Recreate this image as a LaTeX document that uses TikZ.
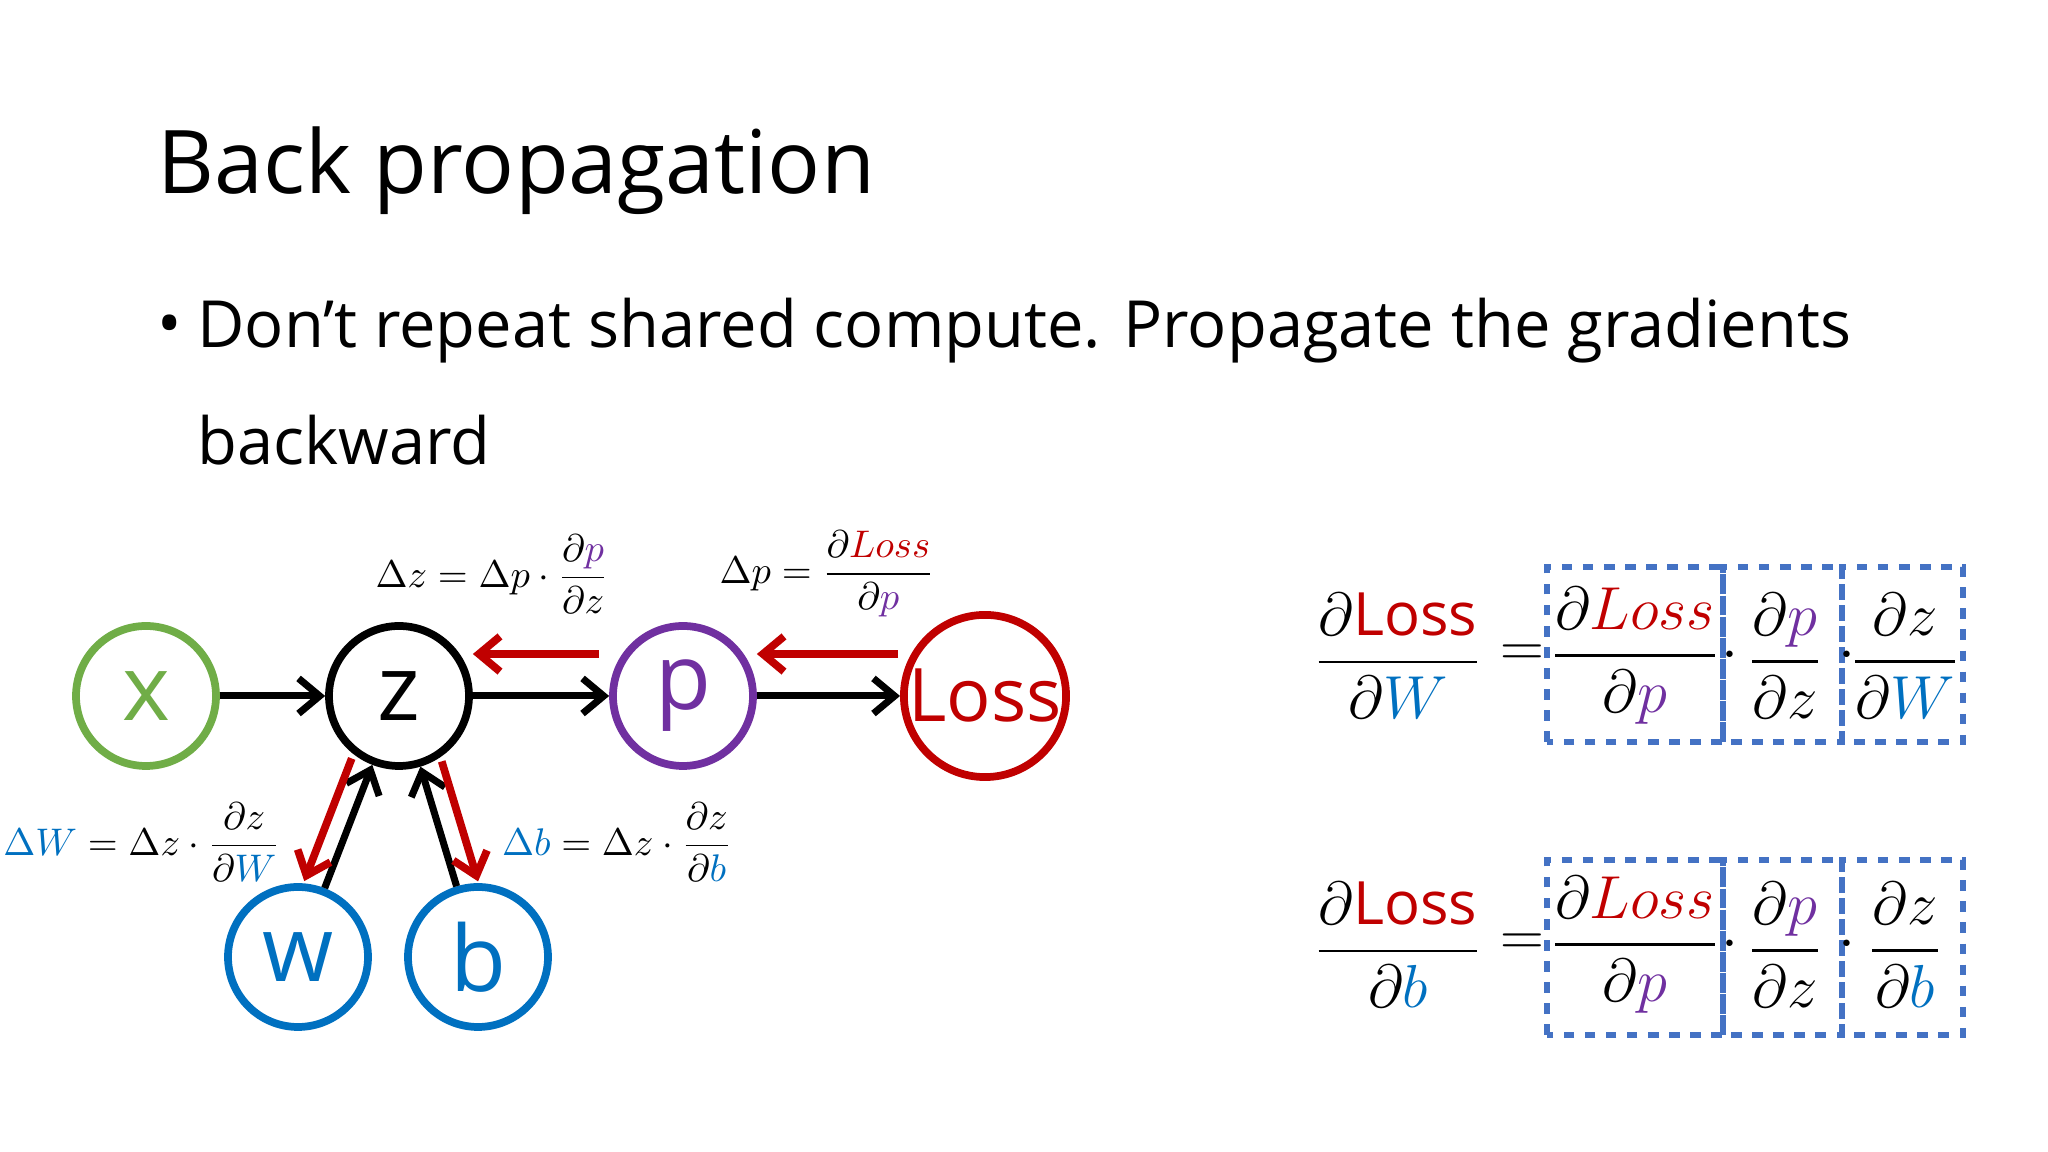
\documentclass[tikz,border=0pt]{standalone}
\usepackage{amsmath}
\usepackage{fontspec}
\setmainfont{Open Sans}
\usetikzlibrary{arrows.meta,calc}
\definecolor{cg}{RGB}{112,173,71}
\definecolor{cp}{RGB}{112,48,160}
\definecolor{cr}{RGB}{192,0,0}
\definecolor{cb}{RGB}{0,112,192}
\definecolor{cbox}{RGB}{68,114,196}
\tikzset{
 nd/.style={circle,draw,line width=2.2pt,minimum size=1.4cm,inner sep=0pt,font=\fontsize{26}{28}\selectfont},
 fw/.style={-{Straight Barb[length=6pt,width=10pt]},line width=2pt},
 bw/.style={-{Straight Barb[length=6pt,width=10pt]},line width=2.2pt,cr},
 lab/.style={font=\fontsize{11}{13}\selectfont},
 big/.style={font=\fontsize{17}{20}\selectfont},
 bx/.style={draw=cbox,dashed,line width=1.6pt}
}
\begin{document}
\begin{tikzpicture}
\useasboundingbox (0,0) rectangle (20.48,11.52);
\node[anchor=west,font=\fontsize{25}{28}\selectfont] (title) at (1.45,9.81) {Back propagation};
\node[anchor=west,font=\fontsize{18.5}{22}\selectfont] (bul) at (1.45,8.21) {•};
\node[anchor=west,font=\fontsize{18.5}{22}\selectfont] (l1) at (1.85,8.21) {Don’t repeat shared compute. Propagate the gradients};
\node[anchor=west,font=\fontsize{18.5}{22}\selectfont] (l2) at (1.85,7.12) {backward};

\node[nd,draw=cg,text=cg] (x) at (1.46,4.56) {x};
\node[nd] (z) at (3.99,4.56) {z};
\node[nd,draw=cp,text=cp] (p) at (6.83,4.56) {p};
\node[nd,draw=cr,text=cr,font=\fontsize{21}{22}\selectfont] (L) at (9.85,4.56) {Loss};
\node[nd,draw=cb,text=cb] (w) at (2.98,1.95) {w};
\node[nd,draw=cb,text=cb] (b) at (4.78,1.95) {b};

\draw[fw] (x) -- (z);
\draw[fw] (z) -- (p);
\draw[fw] (p) -- (L);
\draw[fw] (w) -- (z);
\draw[fw] (b) -- (z);
\draw[bw] ([yshift=0.42cm]p.west) ++(-0.1,0) coordinate (pa) -- ([yshift=0.42cm]z.east) coordinate (za);
\draw[bw] ([yshift=0.42cm]L.west) ++(-0.02,0) coordinate (la) -- ([yshift=0.42cm]p.east);
\draw[bw] ($(z)!0.27!(w)+(-0.2,0.08)$) -- ($(w)!0.26!(z)+(-0.2,0.08)$);
\draw[bw] ($(z)!0.275!(b)+(0.21,0.064)$) -- ($(b)!0.265!(z)+(0.21,0.064)$);

\node[lab] (e1) at (4.92,5.78) {$\Delta z=\Delta p\cdot\dfrac{\partial \textcolor{cp}{p}}{\partial z}$};
\node[lab] (e2) at (8.27,5.78) {$\Delta p=\dfrac{\partial \textcolor{cr}{Loss}}{\partial \textcolor{cp}{p}}$};
\node[lab] (e3) at (1.42,3.10) {$\textcolor{cb}{\Delta W}=\Delta z\cdot\dfrac{\partial z}{\partial \textcolor{cb}{W}}$};
\node[lab] (e4) at (6.17,3.10) {$\textcolor{cb}{\Delta b}=\Delta z\cdot\dfrac{\partial z}{\partial \textcolor{cb}{b}}$};

% first equation
\draw[bx] (15.47,4.10) rectangle (17.23,5.85);
\draw[bx] (17.23,4.10) rectangle (18.42,5.85);
\draw[bx] (18.42,4.10) rectangle (19.63,5.85);
\node[big] (f1) at (13.98,4.96) {$\dfrac{\partial\textcolor{cr}{\mathrm{Loss}}}{\partial \textcolor{cb}{W}}$};
\node[big] (q1) at (15.22,4.96) {$=$};
\node[big] (g1) at (16.35,4.96) {$\dfrac{\partial\textcolor{cr}{Loss}}{\partial \textcolor{cp}{p}}$};
\node[big] (d1) at (17.3,4.96) {$\cdot$};
\node[big] (h1) at (17.85,4.96) {$\dfrac{\partial\textcolor{cp}{p}}{\partial z}$};
\node[big] (d2) at (18.47,4.96) {$\cdot$};
\node[big] (k1) at (19.05,4.96) {$\dfrac{\partial z}{\partial \textcolor{cb}{W}}$};
% second equation
\draw[bx] (15.47,1.17) rectangle (17.23,2.92);
\draw[bx] (17.23,1.17) rectangle (18.42,2.92);
\draw[bx] (18.42,1.17) rectangle (19.63,2.92);
\node[big] (f2) at (13.98,2.07) {$\dfrac{\partial\textcolor{cr}{\mathrm{Loss}}}{\partial \textcolor{cb}{b}}$};
\node[big] (q2) at (15.22,2.07) {$=$};
\node[big] (g2) at (16.35,2.07) {$\dfrac{\partial\textcolor{cr}{Loss}}{\partial \textcolor{cp}{p}}$};
\node[big] (d3) at (17.3,2.07) {$\cdot$};
\node[big] (h2) at (17.85,2.07) {$\dfrac{\partial\textcolor{cp}{p}}{\partial z}$};
\node[big] (d4) at (18.47,2.07) {$\cdot$};
\node[big] (k2) at (19.05,2.07) {$\dfrac{\partial z}{\partial \textcolor{cb}{b}}$};
\end{tikzpicture}
\end{document}
